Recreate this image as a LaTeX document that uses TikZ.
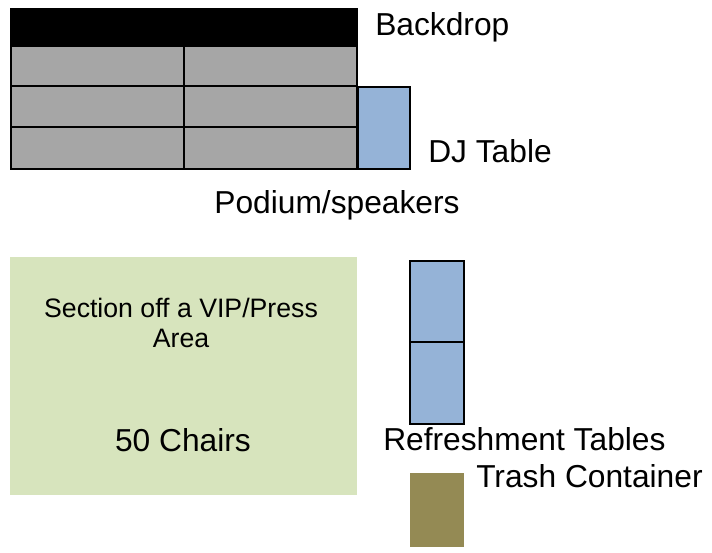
\documentclass[tikz,border=0pt]{standalone}
\usepackage{fontspec}
\setmainfont{Liberation Sans}
\definecolor{panelgray}{HTML}{A6A6A6}
\definecolor{tableblue}{HTML}{95B3D7}
\definecolor{vipgreen}{HTML}{D7E4BD}
\definecolor{trasholive}{HTML}{948A54}
\begin{document}
\begin{tikzpicture}[x=0.75pt, y=-0.75pt,
    lbl/.style={inner sep=0pt, anchor=base west, font=\fontsize{23.8pt}{28pt}\selectfont},
    panel/.style={fill=panelgray, draw=black, line width=1.3pt}]
            \useasboundingbox (0, 0) rectangle (712, 552);
            % stage: backdrop and panels
            \fill[black] (10, 8) rectangle (358, 46);
            \draw[panel] (11, 46) rectangle (357, 169);
            \draw[line width=1.3pt] (11, 86)--(357, 86);
            \draw[line width=1.3pt] (11, 127)--(357, 127);
            \draw[line width=1.3pt] (184, 46)--(184, 169);
            \draw[fill=tableblue, line width=1.3pt] (358, 87) rectangle (410, 169);
            \node[lbl] (backdrop) at (375, 36) {Backdrop};
            \node[lbl] (dj) at (428, 162) {DJ Table};
            \node[lbl, anchor=base] (podium) at (337, 213) {Podium/speakers};
            % seating
            \fill[vipgreen] (10, 257) rectangle (357, 495);
            \node[inner sep=0pt, anchor=base, align=center,
                font=\fontsize{20pt}{22.5pt}\selectfont] (vip) at (181, 347.7)
                {Section off a VIP/Press\\Area};
            \node[lbl, anchor=base] (chairs) at (183, 451) {50 Chairs};
            % refreshments
            \draw[fill=tableblue, line width=0.8pt] (410, 261) rectangle (464, 342);
            \draw[fill=tableblue, line width=0.8pt] (410, 342) rectangle (464, 424);
            \node[lbl] (refresh) at (383, 450.7) {Refreshment Tables};
            \fill[trasholive] (410, 473) rectangle (464, 547);
            \node[lbl] (trash) at (476, 487.7) {Trash Container};
        \end{tikzpicture}
\end{document}
